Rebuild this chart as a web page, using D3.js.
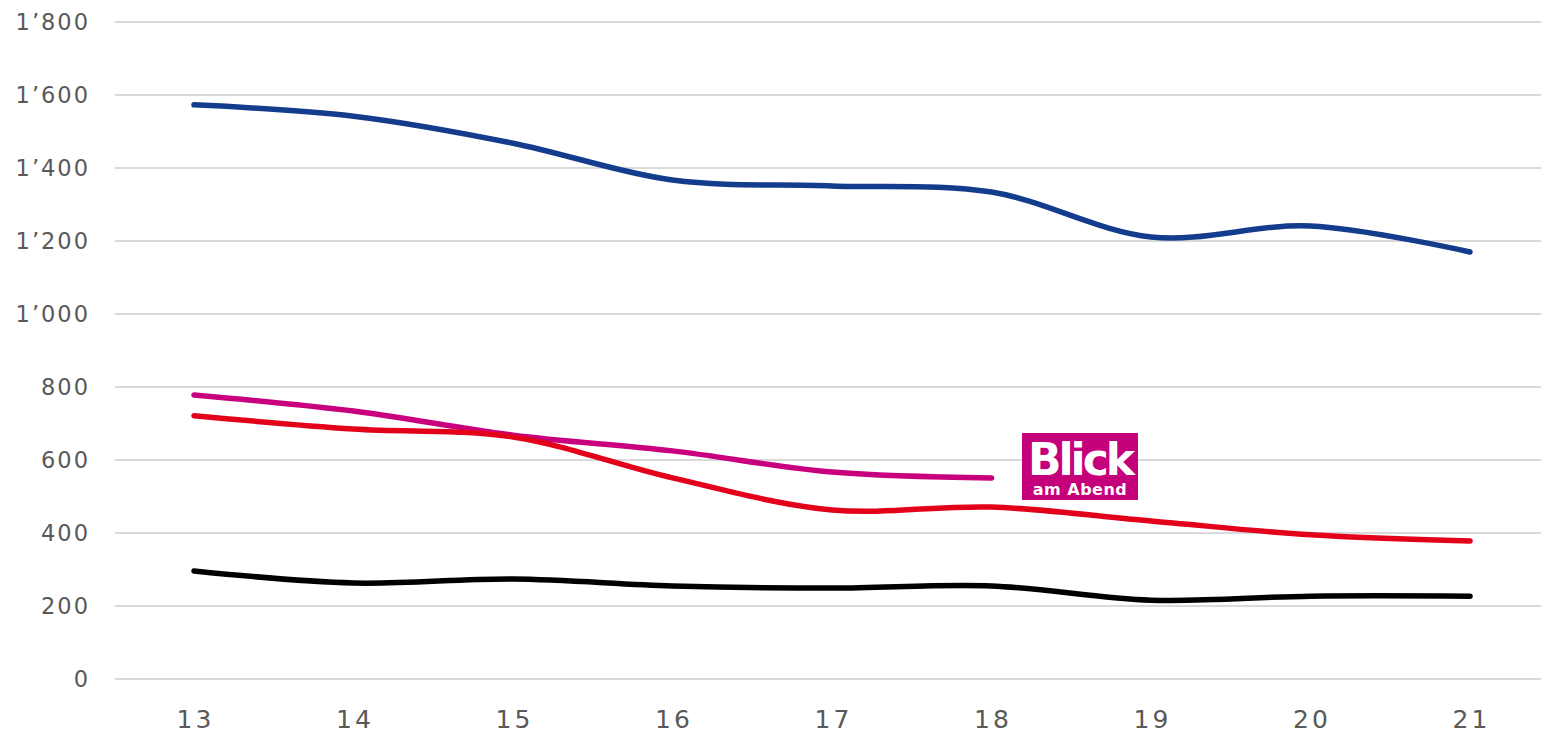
<!doctype html>
<html>
<head>
<meta charset="utf-8">
<script src="https://d3js.org/d3.v7.min.js"></script>
<style>
  body { margin: 0; background: #fff; }
  text { font-family: "DejaVu Sans", Verdana, sans-serif; fill: #595959; }
</style>
</head>
<body>
<svg width="1541" height="733"></svg>
<script>
var years = ["13", "14", "15", "16", "17", "18", "19", "20", "21"];
var yTicks = [0, 200, 400, 600, 800, 1000, 1200, 1400, 1600, 1800];

// readers per paper
var blue    = [1573, 1542, 1468, 1367, 1351, 1334, 1211, 1241, 1170];
var magenta = [778, 734, 668, 625, 567, 551];
var red     = [721, 685, 663, 551, 463, 471, 433, 395, 378];
var black   = [296, 263, 274, 255, 249, 255, 216, 227, 227];

var series = [
  { values: blue,    color: "#143c8c" },
  { values: magenta, color: "#c8007e" },
  { values: red,     color: "#e3001b" },
  { values: black,   color: "#000000" }
];

var svg = d3.select("svg");

var x = d3.scalePoint().domain(years).range([194, 1470]);
var y = d3.scaleLinear().domain([0, 1800]).range([679, 22]);

// gridlines
svg.append("g")
  .selectAll("line")
  .data(yTicks)
  .enter().append("line")
  .attr("x1", 115).attr("x2", 1541)
  .attr("y1", function(d) { return y(d); })
  .attr("y2", function(d) { return y(d); })
  .attr("stroke", "#d9d9d9")
  .attr("stroke-width", 2);

var fmt = function(d) { return d >= 1000 ? Math.floor(d / 1000) + "\u2019" + d3.format("03d")(d % 1000) : String(d); };

// y labels
svg.append("g")
  .selectAll("text")
  .data(yTicks)
  .enter().append("text")
  .attr("x", 90)
  .attr("y", function(d) { return y(d); })
  .attr("dy", "0.36em")
  .attr("text-anchor", "end")
  .style("font-size", "22.5px")
  .style("letter-spacing", "2px")
  .text(fmt);

// x labels
svg.append("g")
  .selectAll("text")
  .data(years)
  .enter().append("text")
  .attr("x", function(d) { return x(d) + 1.5; })
  .attr("y", 728)
  .attr("text-anchor", "middle")
  .style("font-size", "25px")
  .style("letter-spacing", "3px")
  .text(function(d) { return d; });

var line = d3.line()
  .x(function(d, i) { return x(years[i]); })
  .y(function(d) { return y(d); })
  .curve(d3.curveCatmullRom.alpha(0.5));

svg.append("g")
  .selectAll("path")
  .data(series)
  .enter().append("path")
  .attr("d", function(s) { return line(s.values); })
  .attr("fill", "none")
  .attr("stroke", function(s) { return s.color; })
  .attr("stroke-width", 5.5)
  .attr("stroke-linecap", "round");

// Blick am Abend logo
var logo = svg.append("g").attr("transform", "translate(1022,433)");
logo.append("rect").attr("width", 116).attr("height", 67).attr("fill", "#c4007a");
logo.append("text").attr("x", 58).attr("y", 42).attr("text-anchor", "middle")
  .style("font-size", "44px").style("font-weight", "900").style("fill", "#fff")
  .style("letter-spacing", "-3px").text("Blick");
logo.append("text").attr("x", 58).attr("y", 62).attr("text-anchor", "middle")
  .style("font-size", "16px").style("font-weight", "bold").style("fill", "#fff")
  .style("letter-spacing", "0.5px").text("am Abend");
</script>
</body>
</html>
